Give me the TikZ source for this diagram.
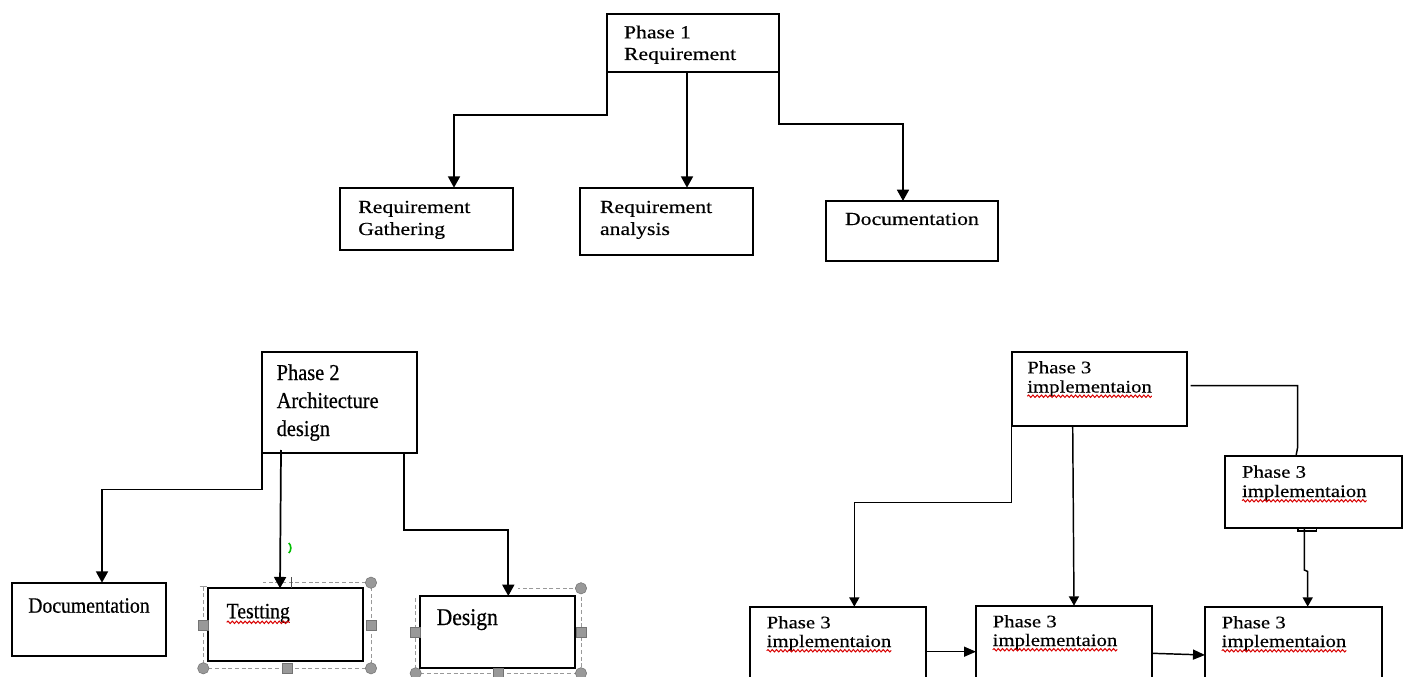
\documentclass[tikz,border=0pt]{standalone}
\usepackage{fontspec}
\setmainfont{Liberation Serif}
\newfontfamily\wideserif[FakeStretch=1.18,FakeBold=0.35]{Liberation Serif}
\newfontfamily\narrowserif[FakeStretch=0.9,FakeBold=0.5]{Liberation Serif}
\usetikzlibrary{arrows.meta,decorations.pathmorphing}
\begin{document}
\begin{tikzpicture}[x=0.75pt,y=-0.75pt,
  box/.style={draw=black,line width=1.4pt,fill=white,inner sep=0pt,outer sep=0pt},
  sz/.style 2 args={minimum width=#1*0.75pt,minimum height=#2*0.75pt},
  lbl/.style={inner sep=0pt,outer sep=0pt,anchor=base west},
  fa/.style={font=\wideserif\fontsize{13.8pt}{16pt}\selectfont},
  fc/.style={font=\wideserif\fontsize{13.2pt}{15pt}\selectfont},
  fb/.style={font=\narrowserif\fontsize{17pt}{21pt}\selectfont},
  fd/.style={font=\narrowserif\fontsize{16.4pt}{20pt}\selectfont},
  fe/.style={font=\narrowserif\fontsize{18pt}{21pt}\selectfont},
  arr/.style={line width=1.3pt,-{Triangle[length=8.5pt,width=9pt]}},
  arrc/.style={line width=1.1pt,-{Triangle[length=7pt,width=7.5pt]}},
  arrh/.style={line width=1.1pt,-{Triangle[length=9pt,width=7.5pt]}},
  conn/.style={line width=1.1pt},
  wavy/.style={draw=red!85!black,line width=0.75pt,decorate,
    decoration={snake,amplitude=0.9pt,segment length=3.2pt}},
  frame/.style={draw=gray!80,line width=0.7pt,dash pattern=on 3pt off 2pt},
  hsq/.style={draw=gray!90!black,fill=gray!80,inner sep=0pt,minimum size=7.5pt,line width=0.4pt},
  hci/.style={circle,draw=gray!90!black,fill=gray!80,inner sep=0pt,minimum size=8.5pt,line width=0.4pt}]
\useasboundingbox (0,0) rectangle (1407,677);
\clip (0,0) rectangle (1407,677);
\fill[white] (0,0) rectangle (1407,677);

% ---------- Phase 1 ----------
\node[box,sz={172.6}{57.7}] (p1) at (693,42.85) {};
\node[box,sz={172.7}{62.3}] (rg) at (426.35,218.85) {};
\node[box,sz={173.3}{67.3}] (ra) at (666.65,221.35) {};
\node[box,sz={172.6}{59.7}] (doc1) at (912,230.85) {};

\node[lbl,fa] (p1a) at (624,38.3) {Phase 1};
\node[lbl,fa] (p1b) at (624,60) {Requirement};
\node[lbl,fa] (rga) at (358.3,213) {Requirement};
\node[lbl,fa] (rgb) at (358.3,235) {Gathering};
\node[lbl,fa] (raa) at (600,213) {Requirement};
\node[lbl,fa] (rab) at (600,235) {analysis};
\node[lbl,fa] (doc1a) at (845,225) {Documentation};

\coordinate (c1) at (454,115);
\coordinate (c2) at (687,0);
\coordinate (c3) at (903,124);
\draw[arr] (p1.south west) |- (c1) -- (c1 |- rg.north);
\draw[arr] (c2 |- p1.south) -- (c2 |- ra.north);
\draw[arr] (p1.south east) |- (c3) -- (c3 |- doc1.north);

% ---------- Phase 2 ----------
% selection frames around two of the boxes
\draw[frame] (203.3,586.7) -- (203.3,668.3) -- (371,668.3) -- (371,582.7) -- (263,582.7);
\draw[draw=gray!80,line width=0.9pt] (199.5,586.7) -- (207,586.7);
\draw[frame] (415.7,598) -- (415.7,673.3) -- (581,673.3) -- (581,588.3) -- (518,588.3);

\node[box,sz={155.6}{101.6}] (p2) at (339.5,402.5) {};
\node[box,sz={154}{73}] (doc2) at (88.7,619.2) {};
\node[box,sz={155}{72.7}] (test) at (285.8,624.65) {};
\node[box,sz={155}{72.3}] (design) at (497.5,632.15) {};

\node[lbl,fb] (p2a) at (276.7,380) {Phase 2};
\node[lbl,fb] (p2b) at (276.7,408) {Architecture};
\node[lbl,fb] (p2c) at (276.7,436) {design};
\node[lbl,fd] (doc2a) at (28.3,612.7) {Documentation};
\node[lbl,fd] (testa) at (226.7,618.3) {Testting};
\node[lbl,fe] (designa) at (436.7,625) {Design};
\draw[wavy] ([yshift=-3pt]testa.base west) -- ([yshift=-3pt]testa.base east);

% handles of the selection frames
\node[hci] (t1) at (371,582.7) {};
\node[hci] (t2) at (203.3,668.3) {};
\node[hci] (t3) at (371,668.3) {};
\node[hsq] (t4) at (203.3,625.5) {};
\node[hsq] (t5) at (371,625.5) {};
\node[hsq] (t6) at (287,668.3) {};
\draw[gray!60!black,line width=0.6pt] (291.7,577) -- (291.7,588.3);
\node[hci] (d1) at (581,588.3) {};
\node[hci] (d2) at (415.7,673.3) {};
\node[hci] (d3) at (581,673.3) {};
\node[hsq] (d4) at (415.7,632.3) {};
\node[hsq] (d5) at (581,632.3) {};
\node[hsq] (d6) at (498.3,673.3) {};

% small green cursor mark
\draw[green!75!black,line width=1.2pt] (288.8,543) .. controls (291.5,545.5) and (291.5,550.5) .. (288.8,553);

\coordinate (c4) at (102,489.5);
\coordinate (c5) at (281,450);
\coordinate (c6) at (280,0);
\coordinate (c7) at (404.3,0);
\coordinate (c8) at (508.3,530);
\draw[arr] (p2.south west) |- (c4) -- (c4 |- doc2.north);
\draw[arr] (c5) -- (c6 |- test.north);
\draw[arr] (c7 |- p2.south) |- (c8) -- (c8 |- design.north);

% ---------- Phase 3 ----------
\node[box,sz={175.6}{74}] (p3) at (1099.5,388.7) {};
\node[box,sz={176.4}{72.3}] (p3r) at (1313.5,492.15) {};
\node[box,sz={175.7}{113.3}] (b1) at (837.85,663.35) {};
\node[box,sz={176}{114.3}] (b2) at (1064,662.85) {};
\node[box,sz={176.7}{113.3}] (b3) at (1293.35,663.35) {};

\node[lbl,fc] (p3a) at (1027.3,373.3) {Phase 3};
\node[lbl,fc] (p3b) at (1027.3,392.5) {implementaion};
\node[lbl,fc] (p3ra) at (1242,477.7) {Phase 3};
\node[lbl,fc] (p3rb) at (1242,497) {implementaion};
\node[lbl,fc] (b1a) at (766.7,628.3) {Phase 3};
\node[lbl,fc] (b1b) at (766.7,647) {implementaion};
\node[lbl,fc] (b2a) at (992.7,627.3) {Phase 3};
\node[lbl,fc] (b2b) at (992.7,646) {implementaion};
\node[lbl,fc] (b3a) at (1221.7,628.3) {Phase 3};
\node[lbl,fc] (b3b) at (1221.7,647) {implementaion};
\foreach \n in {p3b,p3rb,b1b,b2b,b3b}
  \draw[wavy] ([yshift=-2.8pt]\n.base west) -- ([yshift=-2.8pt]\n.base east);

\coordinate (c9) at (854.3,502.3);
\coordinate (c10) at (1072.7,0);
\coordinate (c11) at (1074,0);
\coordinate (c12) at (1190.7,385.7);
\coordinate (c13) at (1297.7,447);
\coordinate (c14) at (1296,0);
\coordinate (c15) at (1304.3,0);
\coordinate (c16) at (1304.3,570);
\coordinate (c17) at (1307.7,571.5);
\coordinate (c18) at (0,651.7);
\coordinate (c19) at (0,653.3);
\coordinate (c20) at (0,655);
\draw[arrc] (p3.south west) |- (c9) -- (c9 |- b1.north);
\draw[arrc] (c10 |- p3.south) -- (c11 |- b2.north);
\draw[conn] (c12) -| (c13) .. controls (1297.7,452) .. (c14 |- p3r.north);
\draw[conn] (1298,528.3) -- (1298,530.8) -- (1316.7,530.8) -- (1316.7,528.3);
\draw[arrc] (c15 |- p3r.south) -- (c16) -- (c17) -- (c17 |- b3.north);
\draw[arrh] (c18 -| b1.east) -- (c18 -| b2.west);
\draw[arrh] (c19 -| b2.east) -- (c20 -| b3.west);
\end{tikzpicture}
\end{document}
